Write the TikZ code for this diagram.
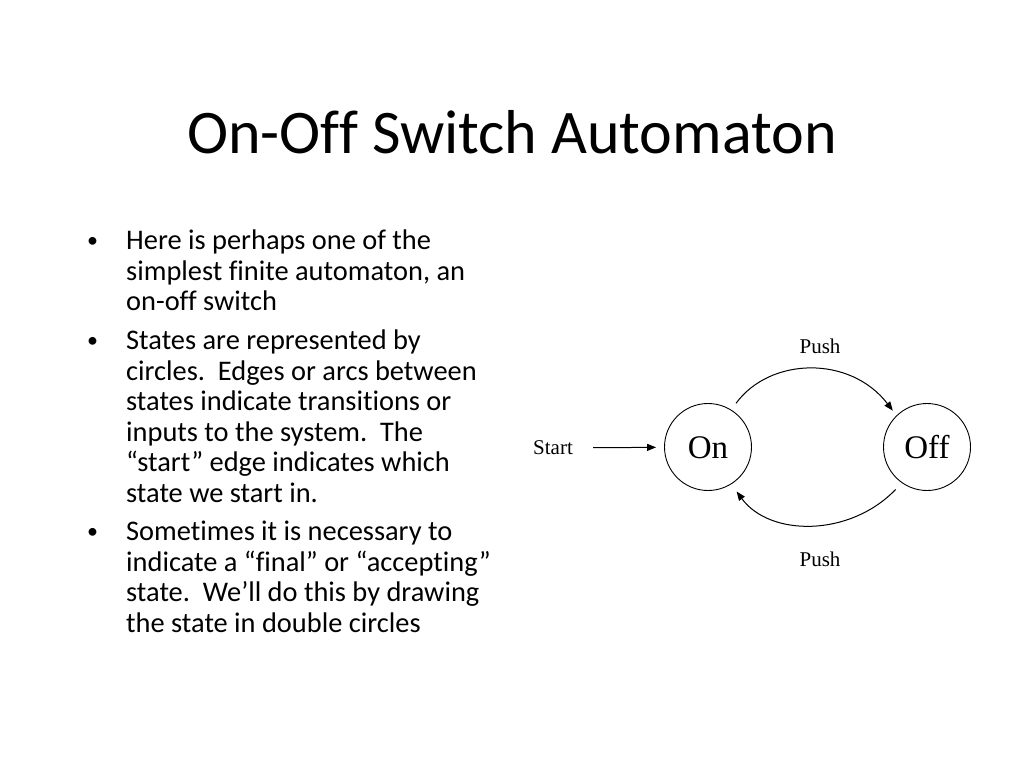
\documentclass[tikz,border=0pt]{standalone}
\usepackage{fontspec}
\setmainfont{Carlito}[Ligatures=NoCommon]
\newfontfamily\tmsfont{Liberation Serif}
\usetikzlibrary{arrows.meta}
\begin{document}
\begin{tikzpicture}[x=1pt,y=-1pt,
  state/.style={circle,draw,line width=0.9pt,minimum size=87pt,inner sep=0pt,text height=22pt,text depth=0pt,font=\tmsfont\fontsize{33}{33}\selectfont},
  lbl/.style={inner sep=0pt,font=\tmsfont\fontsize{21}{21}\selectfont},
  edge/.style={-{Triangle[length=9pt,width=7pt]},line width=1pt},
  line/.style={anchor=base west,inner sep=0pt,font=\fontsize{28.4}{30}\selectfont},
  dot/.style={anchor=base west,inner sep=0pt,font=\fontsize{22}{22}\selectfont},
  title/.style={anchor=base,inner sep=0pt,font=\fontsize{62}{62}\selectfont}
]
\useasboundingbox (0,0) rectangle (1024,768);
\node[title] (T) at (512,153) {On-Off Switch Automaton};
% bullet 1
\node[dot] (b1) at (87,247) {•};
\node[line] (l1) at (126,249) {Here is perhaps one of the};
\node[line] (l2) at (126,280) {simplest finite automaton, an};
\node[line] (l3) at (126,310) {on-off switch};
% bullet 2
\node[dot] (b2) at (87,347) {•};
\node[line] (l4) at (126,349) {States are represented by};
\node[line] (l5) at (126,380) {circles.\ \ Edges or arcs between};
\node[line] (l6) at (126,410) {states indicate transitions or};
\node[line] (l7) at (126,441) {inputs to the system.\ \ The};
\node[line] (l8) at (126,471) {“start” edge indicates which};
\node[line] (l9) at (126,502) {state we start in.};
% bullet 3
\node[dot] (b3) at (87,538) {•};
\node[line] (l10) at (126,540) {Sometimes it is necessary to};
\node[line] (l11) at (126,571) {indicate a “final” or “accepting”};
\node[line] (l12) at (126,601) {state.\ \ We’ll do this by drawing};
\node[line] (l13) at (126,632) {the state in double circles};
% diagram
\node[state] (On) at (708,447) {On};
\node[state] (Off) at (927,447) {Off};
\node[lbl] (S) at (553,448) {Start};
\node[lbl,anchor=base] (P1) at (820,353) {Push};
\node[lbl,anchor=base] (P2) at (820,566) {Push};
\draw[edge,shorten <=20pt,shorten >=8pt] (S) -- (On);
\draw[edge,shorten <=8pt,shorten >=6pt] (On.58) .. controls (770,357) and (850,355) .. (Off.134);
\draw[edge,shorten <=9pt,shorten >=9pt] (Off.235) .. controls (850,537) and (770,537) .. (On.302);
\end{tikzpicture}
\end{document}
